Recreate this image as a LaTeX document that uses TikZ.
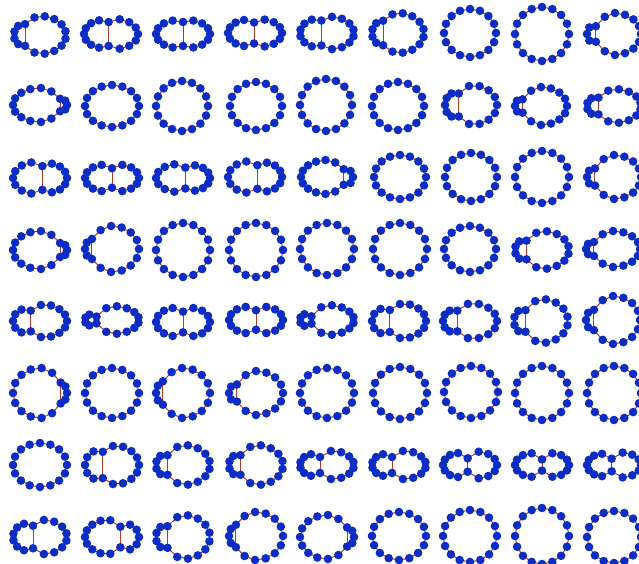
\documentclass[tikz,border=0pt]{standalone}
\definecolor{edgec}{HTML}{B03A2E}
\definecolor{dotc}{HTML}{0B2DC4}
\tikzset{
  edge/.style={draw=edgec, line width=1pt},
  gdot/.style={circle, fill=dotc, inner sep=0pt, minimum size=8.6pt}
}
% #1 name, #2 cx, #3 cy, #4 rx, #5 ry, #6 chord angle in degrees (0 = none), #7 pinch
\newcommand{\gcell}[7]{%
  \pgfmathsetmacro{\th}{ifthenelse(#6==0,22.5,#6)}%
  \pgfmathtruncatemacro{\na}{max(2,round(16*\th/180))}%
  \pgfmathtruncatemacro{\nb}{16-\na}%
  \pgfmathsetmacro{\dd}{cos(\th)}%
  \foreach \i in {0,...,15} {%
    \pgfmathsetmacro{\ang}{ifthenelse(\i<=\na,-\th+2*\th*\i/\na,\th+(360-2*\th)*(\i-\na)/\nb)}%
    \pgfmathsetmacro{\u}{cos(\ang)}%
    \pgfmathsetmacro{\tt}{(\u-\dd)/0.28}%
    \pgfmathsetmacro{\f}{1-#7*exp(-(\tt*\tt))}%
    \coordinate (#1-\i) at ({#2+#4*\u},{#3+#5*sin(\ang)*\f});
  }%
  \foreach \i [evaluate=\i as \j using {int(mod(\i+1,16))}] in {0,...,15} {%
    \draw[edge] (#1-\i) -- (#1-\j);
  }%
  \ifnum#6>0 \draw[edge] (#1-0) -- (#1-\na);\fi
  \foreach \i in {0,...,15} {%
    \node[gdot] (#1-d\i) at (#1-\i) {};
  }%
}
\begin{document}
\begin{tikzpicture}[x=1pt,y=-1pt]
\useasboundingbox (0,0) rectangle (639,564);
\clip (0,0) rectangle (639,564);
\fill[white] (0,0) rectangle (639,564);
% row 1
\gcell{a1}{40}{35}{26}{19}{125}{0.3}
\gcell{a2}{111}{34}{27}{16}{95}{0.25}
\gcell{a3}{183}{34}{27}{15}{90}{0.2}
\gcell{a4}{255}{33}{27}{15}{92}{0.3}
\gcell{a5}{327}{33}{27}{17}{102}{0.25}
\gcell{a6}{398}{33}{26}{20}{125}{0.25}
\gcell{a7}{470}{33}{26}{24}{0}{0}
\gcell{a8}{542}{34}{27}{27}{0}{0}
\gcell{a9}{614}{34}{27}{21}{132}{0.5}
% row 2
\gcell{b1}{40}{105}{27}{17}{42}{0.45}
\gcell{b2}{112}{106}{27}{21}{0}{0}
\gcell{b3}{182}{106}{26}{25}{0}{0}
\gcell{b4}{256}{106}{26}{24}{0}{0}
\gcell{b5}{326}{105}{26}{26}{0}{0}
\gcell{b6}{398}{106}{26}{24}{0}{0}
\gcell{b7}{471}{105}{26}{20}{118}{0.35}
\gcell{b8}{541}{106}{26}{19}{135}{0.5}
\gcell{b9}{614}{106}{27}{17}{125}{0.4}
% row 3
\gcell{c1}{40}{178}{27}{17}{85}{0.3}
\gcell{c2}{112}{178}{27}{15}{90}{0.35}
\gcell{c3}{183}{178}{27}{15}{85}{0.3}
\gcell{c4}{255}{177}{27}{17}{85}{0.3}
\gcell{c5}{327}{177}{26}{17}{50}{0.4}
\gcell{c6}{400}{177}{26}{22}{0}{0}
\gcell{c7}{471}{177}{26}{24}{0}{0}
\gcell{c8}{542}{177}{27}{26}{0}{0}
\gcell{c9}{614}{177}{27}{22}{135}{0.45}
% row 4
\gcell{d1}{40}{250}{27}{19}{42}{0.45}
\gcell{d2}{112}{249}{27}{23}{138}{0.35}
\gcell{d3}{183}{250}{27}{27}{0}{0}
\gcell{d4}{256}{250}{27}{27}{0}{0}
\gcell{d5}{327}{249}{27}{26}{0}{0}
\gcell{d6}{400}{249}{27}{26}{0}{0}
\gcell{d7}{470}{249}{26}{23}{0}{0}
\gcell{d8}{542}{250}{27}{19}{125}{0.4}
\gcell{d9}{613}{249}{27}{18}{135}{0.45}
% row 5
\gcell{e1}{40}{321}{27}{17}{110}{0.35}
\gcell{e2}{112}{320}{27}{14}{125}{0.7}
\gcell{e3}{183}{322}{27}{16}{90}{0.35}
\gcell{e4}{256}{320}{27}{15}{90}{0.35}
\gcell{e5}{327}{320}{27}{15}{125}{0.7}
\gcell{e6}{399}{321}{27}{18}{110}{0.35}
\gcell{e7}{470}{321}{27}{18}{118}{0.35}
\gcell{e8}{541}{321}{27}{22}{125}{0.4}
\gcell{e9}{613}{320}{27}{24}{135}{0.4}
% row 6
\gcell{f1}{40}{393}{27}{25}{40}{0.35}
\gcell{f2}{112}{393}{27}{25}{0}{0}
\gcell{f3}{183}{393}{27}{25}{138}{0.3}
\gcell{f4}{256}{393}{27}{22}{135}{0.45}
\gcell{f5}{327}{393}{27}{25}{0}{0}
\gcell{f6}{400}{393}{27}{26}{0}{0}
\gcell{f7}{471}{392}{27}{26}{0}{0}
\gcell{f8}{542}{393}{27}{27}{0}{0}
\gcell{f9}{614}{393}{27}{27}{0}{0}
% row 7
\gcell{g1}{40}{465}{27}{22}{0}{0}
\gcell{g2}{112}{465}{27}{20}{110}{0.3}
\gcell{g3}{183}{465}{27}{20}{125}{0.4}
\gcell{g4}{256}{465}{27}{20}{125}{0.4}
\gcell{g5}{327}{465}{27}{15}{105}{0.45}
\gcell{g6}{399}{465}{27}{15}{105}{0.45}
\gcell{g7}{470}{465}{27}{15}{95}{0.55}
\gcell{g8}{542}{465}{27}{14}{90}{0.6}
\gcell{g9}{614}{465}{27}{14}{95}{0.55}
% row 8
\gcell{h1}{40}{537}{27}{18}{105}{0.35}
\gcell{h2}{112}{537}{27}{18}{72}{0.4}
\gcell{h3}{183}{537}{27}{22}{125}{0.4}
\gcell{h4}{256}{536}{27}{24}{138}{0.3}
\gcell{h5}{327}{537}{27}{22}{42}{0.35}
\gcell{h6}{399}{536}{27}{24}{0}{0}
\gcell{h7}{470}{536}{27}{26}{0}{0}
\gcell{h8}{542}{536}{27}{28}{0}{0}
\gcell{h9}{614}{537}{27}{26}{0}{0}
\end{tikzpicture}
\end{document}
